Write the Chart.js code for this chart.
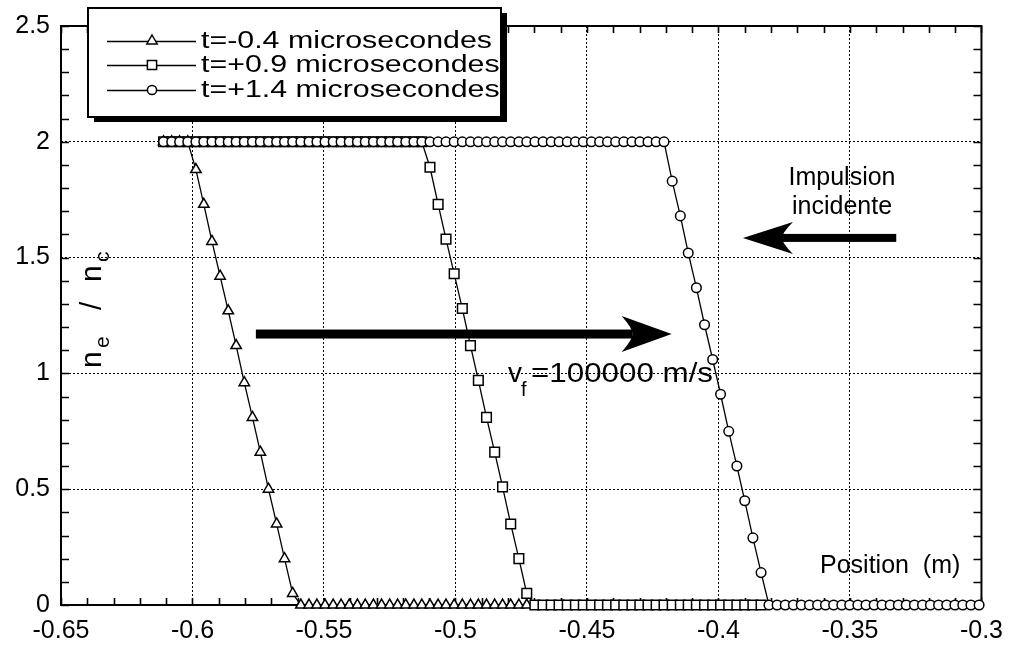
<!DOCTYPE html>
<html>
<head>
<meta charset="utf-8">
<script src="https://cdn.jsdelivr.net/npm/chart.js"></script>
<style>
body{margin:0;background:#fff;}
#wrap{width:1014px;height:648px;}
</style>
</head>
<body>
<div id="wrap"><canvas id="profil" width="1014" height="648"></canvas></div>
<script>
// positions (m), shared by the three profiles
const positions=[
-0.6110,-0.6079,-0.6049,-0.6018,-0.5987,-0.5957,-0.5926,-0.5895,-0.5864,-0.5834,
-0.5803,-0.5772,-0.5742,-0.5711,-0.5680,-0.5650,-0.5619,-0.5588,-0.5557,-0.5527,
-0.5496,-0.5465,-0.5435,-0.5404,-0.5373,-0.5343,-0.5312,-0.5281,-0.5250,-0.5220,
-0.5189,-0.5158,-0.5128,-0.5097,-0.5066,-0.5036,-0.5005,-0.4974,-0.4943,-0.4913,
-0.4882,-0.4851,-0.4821,-0.4790,-0.4759,-0.4729,-0.4698,-0.4667,-0.4636,-0.4606,
-0.4575,-0.4544,-0.4514,-0.4483,-0.4452,-0.4422,-0.4391,-0.4360,-0.4329,-0.4299,
-0.4268,-0.4237,-0.4207,-0.4176,-0.4145,-0.4115,-0.4084,-0.4053,-0.4022,-0.3992,
-0.3961,-0.3930,-0.3900,-0.3869,-0.3838,-0.3808,-0.3777,-0.3746,-0.3715,-0.3685,
-0.3654,-0.3623,-0.3593,-0.3562,-0.3531,-0.3501,-0.3470,-0.3439,-0.3408,-0.3378,
-0.3347,-0.3316,-0.3286,-0.3255,-0.3224,-0.3194,-0.3163,-0.3132,-0.3101,-0.3071,
-0.3040,-0.3009
];

// ne/nc, t=-0.4 microsecondes
const densiteT1=[
2,2,2,2,
1.88,1.73,1.57,1.42,1.27,1.12,0.96,0.81,0.66,0.50,0.35,0.20,0.05,
0,0,0,0,0,0,0,0,0,0,0,0,0,0,0,0,0,0,0,0,0,0,0,0,0,0,0,0,0
];
// ne/nc, t=+0.9 microsecondes
const densiteT2=[
2,2,2,2,2,2,2,2,2,2,2,2,2,2,2,2,2,2,2,2,2,2,2,2,2,2,2,2,2,2,2,2,2,
1.89,1.73,1.58,1.43,1.28,1.12,0.97,0.81,0.66,0.51,0.35,0.20,0.05,
0,0,0,0,0,0,0,0,0,0,0,0,0,0,0,0,0,0,0,0,0,0,0,0,0,0,0,0,0
];
// ne/nc, t=+1.4 microsecondes
const densiteT3=[
2,2,2,2,2,2,2,2,2,2,2,2,2,2,2,2,2,2,2,2,2,2,2,2,2,2,2,2,2,2,2,2,
2,2,2,2,2,2,2,2,2,2,2,2,2,2,2,2,2,2,2,2,2,2,2,2,2,2,2,2,2,2,2,
1.83,1.68,1.52,1.37,1.21,1.06,0.91,0.75,0.60,0.45,0.29,0.14,
0,0,0,0,0,0,0,0,0,0,0,0,0,0,0,0,0,0,0,0,0,0,0,0,0,0,0
];

const seriesLabels=["t=-0.4 microsecondes","t=+0.9 microsecondes","t=+1.4 microsecondes"];
const xTickLabels=["-0.65","-0.6","-0.55","-0.5","-0.45","-0.4","-0.35","-0.3"];
const yTickLabels=["0","0.5","1","1.5","2","2.5"];

const police='"Liberation Sans", Arial, Helvetica, sans-serif';

function labelFor(list,v){
const k=list.findIndex(s=>Math.abs(parseFloat(s)-v)<1e-6);
return k<0?'':list[k];
}

function pts(vals){
return vals.map((v,i)=>({x:positions[i],y:v}));
}

function serie(label,vals,style,r,ordre){
return {
label:label,
data:pts(vals),
borderColor:'#000',
borderWidth:1.3,
pointStyle:style,
pointRadius:r,
pointBackgroundColor:'#fff',
pointBorderColor:'#000',
pointBorderWidth:1.5,
fill:false,
tension:0,
clip:false,
order:ordre
};
}

function marqueur(ctx,style,x,y,r){
ctx.beginPath();
if(style==='triangle'){
ctx.moveTo(x,y-r);
ctx.lineTo(x+r*0.866,y+r*0.5);
ctx.lineTo(x-r*0.866,y+r*0.5);
ctx.closePath();
}else if(style==='rect'){
const s=r*0.707;
ctx.rect(x-s,y-s,2*s,2*s);
}else{
ctx.arc(x,y,r,0,Math.PI*2);
}
ctx.fillStyle='#fff';
ctx.fill();
ctx.stroke();
}

function texteEtire(ctx,txt,x,y,sx){
ctx.save();
ctx.translate(x,y);
ctx.scale(sx,1);
ctx.fillText(txt,0,0);
ctx.restore();
}

function fleche(ctx,x0,x1,y,epais,longTete,demi){
const d=Math.sign(x1-x0);
const creux=x1-d*longTete*0.78;
ctx.fillRect(Math.min(x0,creux),y-epais/2,Math.abs(creux-x0),epais);
ctx.beginPath();
ctx.moveTo(x1,y);
ctx.lineTo(x1-d*longTete,y-demi);
ctx.quadraticCurveTo(creux,y-epais*0.6,creux,y);
ctx.quadraticCurveTo(creux,y+epais*0.6,x1-d*longTete,y+demi);
ctx.closePath();
ctx.fill();
}

const cadre={
id:'cadre',
beforeDatasetsDraw(chart){
const {ctx,chartArea:a,scales:{x,y}}=chart;
ctx.save();
ctx.strokeStyle='#000';
ctx.lineWidth=1.6;
ctx.beginPath();
x.ticks.forEach(t=>{
const px=Math.round(x.getPixelForValue(t.value))+0.5;
ctx.moveTo(px,a.bottom);ctx.lineTo(px,a.bottom-7);
ctx.moveTo(px,a.top);ctx.lineTo(px,a.top+7);
});
y.ticks.forEach(t=>{
const py=Math.round(y.getPixelForValue(t.value))+0.5;
ctx.moveTo(a.left,py);ctx.lineTo(a.left+8,py);
ctx.moveTo(a.right,py);ctx.lineTo(a.right-8,py);
});
ctx.stroke();
ctx.lineWidth=2;
ctx.strokeRect(a.left,a.top,a.right-a.left,a.bottom-a.top);
ctx.restore();
}
};

const decor={
id:'decor',
afterDraw(chart){
const {ctx,scales:{x,y}}=chart;
ctx.save();
ctx.fillStyle='#000';
ctx.strokeStyle='#000';

// legend box with shadow
ctx.fillRect(94,13,413,109);
ctx.fillStyle='#fff';
ctx.fillRect(88,8,413,109);
ctx.lineWidth=2;
ctx.strokeRect(88,8,413,109);
const styles=['triangle','rect','circle'];
const rayons=[6,6.5,4.6];
const rangs=[41,65,90];
ctx.font='23px '+police;
ctx.textBaseline='middle';
const sx=291/ctx.measureText(seriesLabels[0]).width;
chart.data.datasets.forEach((ds,i)=>{
const yy=rangs[i];
ctx.lineWidth=1.3;
ctx.beginPath();ctx.moveTo(107,yy+0.5);ctx.lineTo(196,yy+0.5);ctx.stroke();
ctx.lineWidth=1.5;
marqueur(ctx,styles[i],152,yy,rayons[i]);
ctx.fillStyle='#000';
texteEtire(ctx,ds.label,201,yy+1,sx);
});

// arrows
ctx.fillStyle='#000';
const ya=y.getPixelForValue(1.17);
fleche(ctx,x.getPixelForValue(-0.5759),x.getPixelForValue(-0.4178),ya,9,50,18);
const yb=y.getPixelForValue(1.585);
fleche(ctx,x.getPixelForValue(-0.3324),x.getPixelForValue(-0.3907),yb,8,50,16);

// annotation texts
ctx.textBaseline='alphabetic';
ctx.textAlign='left';
ctx.font='28px '+police;
ctx.fillText('v',508,382);
ctx.font='20px '+police;
ctx.fillText('f',521,396);
ctx.font='28px '+police;
const w2=ctx.measureText('=100000 m/s').width;
texteEtire(ctx,'=100000 m/s',531,382,182/w2);

ctx.font='25px '+police;
ctx.textAlign='center';
ctx.fillText('Impulsion',842,185);
ctx.fillText('incidente',842,214);
ctx.textAlign='left';
ctx.fillText('Position  (m)',820,573);

// y axis title, rotated
ctx.save();
ctx.translate(101,368);
ctx.rotate(-Math.PI/2);
ctx.font='30px '+police;
ctx.fillText('n',0,0);
ctx.font='21px '+police;
ctx.fillText('e',20,8);
ctx.font='30px '+police;
ctx.fillText('/',58,0);
ctx.fillText('n',86,0);
ctx.font='21px '+police;
ctx.fillText('c',106,8);
ctx.restore();

ctx.restore();
}
};

new Chart(document.getElementById('profil'),{
type:'line',
data:{
datasets:[
serie(seriesLabels[0],densiteT1,'triangle',6,2),
serie(seriesLabels[1],densiteT2,'rect',6.8,1),
serie(seriesLabels[2],densiteT3,'circle',4.8,0)
]
},
options:{
responsive:false,
animation:false,
events:[],
layout:{padding:{top:25,right:23,left:0,bottom:0}},
plugins:{legend:{display:false},tooltip:{enabled:false}},
scales:{
x:{
type:'linear',
min:-0.65,
max:-0.3,
afterFit:s=>{s.height=43;},
border:{display:false,dash:[2,2]},
grid:{
drawTicks:false,
lineWidth:1,
color:c=>labelFor(xTickLabels,c.tick.value)!==''?'#000':'rgba(0,0,0,0)'
},
ticks:{
stepSize:0.01,
maxTicksLimit:100,
autoSkip:false,
maxRotation:0,
padding:11,
color:'#000',
font:{family:police,size:25},
callback:v=>labelFor(xTickLabels,v)
}
},
y:{
type:'linear',
min:0,
max:2.5,
afterFit:s=>{s.width=61;},
border:{display:false,dash:[2,2]},
grid:{
drawTicks:false,
lineWidth:1,
color:c=>labelFor(yTickLabels,c.tick.value)!==''?'#000':'rgba(0,0,0,0)'
},
ticks:{
stepSize:0.1,
maxTicksLimit:100,
autoSkip:false,
padding:11,
color:'#000',
font:{family:police,size:25},
callback:v=>labelFor(yTickLabels,v)
}
}
}
},
plugins:[cadre,decor]
});
</script>
</body>
</html>
